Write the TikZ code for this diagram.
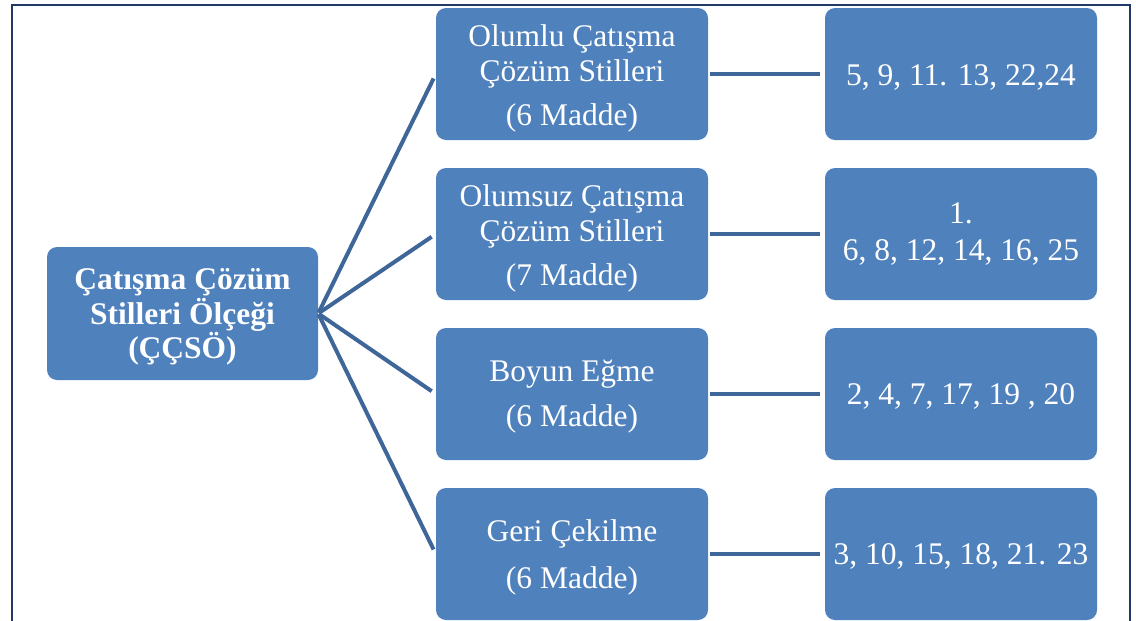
\documentclass[tikz,border=0pt]{standalone}
\usepackage{fontspec}
\setmainfont{Liberation Serif}
\definecolor{boxblue}{HTML}{4F81BD}
\definecolor{linkblue}{HTML}{3F6698}
\definecolor{framenavy}{HTML}{1F3864}
\begin{document}
\begin{tikzpicture}[x=1pt,y=-1pt,
  blk/.style={rectangle,rounded corners=10pt,fill=boxblue,
    minimum width=272pt,minimum height=132pt,inner sep=0pt},
  rootblk/.style={blk,minimum width=271pt,minimum height=133pt},
  txt/.style={text=white,align=center,inner sep=0pt,
    font=\fontsize{31.5}{35}\selectfont},
  roottxt/.style={txt,font=\fontsize{31.5}{34.5}\selectfont\bfseries},
  link/.style={draw=linkblue,line width=4pt}]
\useasboundingbox (0,0) rectangle (1136,621);
\draw[framenavy,line width=2pt] (12,640) -- (12,5) -- (1130,5) -- (1130,640);
\node[rootblk] (root) at (182.5,313.5) {};
\node[blk] (m1) at (572,74) {};
\node[blk] (m2) at (572,234) {};
\node[blk] (m3) at (572,394) {};
\node[blk] (m4) at (572,554) {};
\node[blk] (r1) at (961,74) {};
\node[blk] (r2) at (961,234) {};
\node[blk] (r3) at (961,394) {};
\node[blk] (r4) at (961,554) {};
\node[roottxt] (troot) at ([yshift=-3.5pt]root.center) {Çatışma Çözüm\\Stilleri Ölçeği\\(ÇÇSÖ)};
\node[txt] (tm1) at ([yshift=-4pt]m1.center) {Olumlu Çatışma\\Çözüm Stilleri\\[9pt](6 Madde)};
\node[txt] (tm2) at ([yshift=-4pt]m2.center) {Olumsuz Çatışma\\Çözüm Stilleri\\[9pt](7 Madde)};
\node[txt] (tm3) at ([yshift=-3pt]m3.center) {Boyun Eğme\\[10pt](6 Madde)};
\node[txt] (tm4) at ([yshift=-3pt]m4.center) {Geri Çekilme\\[12pt](6 Madde)};
\node[txt] (tr1) at ([yshift=-3pt]r1.center) {5, 9, 11. 13, 22,24};
\node[txt] (tr2) at ([yshift=-0.5pt]r2.center) {1.\\[2pt]6, 8, 12, 14, 16, 25};
\node[txt] (tr3) at ([yshift=-2pt]r3.center) {2, 4, 7, 17, 19 , 20};
\node[txt] (tr4) at ([yshift=-2pt]r4.center) {3, 10, 15, 18, 21. 23};
\foreach \i in {1,2,3,4}{
  \draw[link,shorten >=5pt,shorten <=1pt] (root.east) -- (m\i.west);
  \draw[link,shorten >=5pt,shorten <=2pt] (m\i.east) -- (r\i.west);
}
\end{tikzpicture}
\end{document}
